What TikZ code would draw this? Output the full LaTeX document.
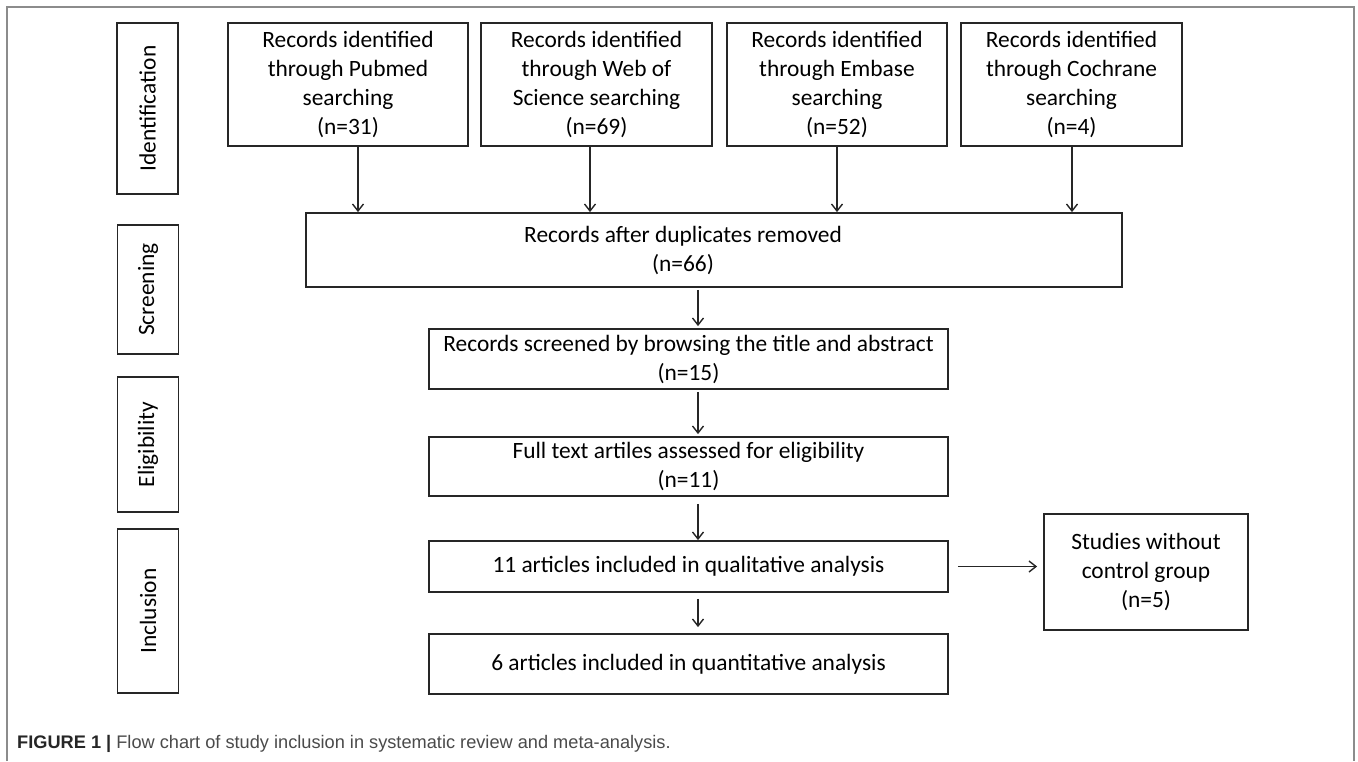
\documentclass[tikz,border=0pt]{standalone}
\usepackage{fontspec}
\setmainfont{Carlito}
\newfontfamily\capfont{Liberation Sans}
\usetikzlibrary{arrows.meta}
\definecolor{framegray}{HTML}{8C8C8C}
\definecolor{linegray}{HTML}{262626}
\definecolor{capgray}{HTML}{4A4A4A}

\begin{document}
\begin{tikzpicture}[x=1pt, y=-1pt, font=\fontsize{23.4}{29}\selectfont]
    \tikzstyle{rect} = [shape=rectangle, draw=linegray, line width=1.8pt, align=center, inner sep=0pt]
    \tikzstyle{side} = [rect, rotate=90, minimum height=61pt]
    \tikzstyle{arr}  = [line width=1.4pt, draw=linegray, -{Straight Barb[length=7pt,width=11pt]}]

    \useasboundingbox (0,0) rectangle (1358,761);
    \draw[framegray, line width=1.2pt] (7,761) -- (7,7) -- (1354,7) -- (1354,761);

    % stages
    \node[side, minimum width=171pt] (ident)  at (147.5,108.5) {Identification};
    \node[side, minimum width=129pt] (screen) at (148,289.5)   {Screening};
    \node[side, minimum width=135pt] (elig)   at (148,444.5)   {Eligibility};
    \node[side, minimum width=164pt] (incl)   at (148,611)     {Inclusion};

    % sources
    \node[rect, minimum width=240pt, minimum height=123pt] (pubmed)   at (348,84.5)
        {Records identified\\through Pubmed\\searching\\(n=31)};
    \node[rect, minimum width=231pt, minimum height=123pt] (wos)      at (596.5,84.5)
        {Records identified\\through Web of\\Science searching\\(n=69)};
    \node[rect, minimum width=220pt, minimum height=123pt] (embase)   at (837,84.5)
        {Records identified\\through Embase\\searching\\(n=52)};
    \node[rect, minimum width=221pt, minimum height=123pt] (cochrane) at (1071.5,84.5)
        {Records identified\\through Cochrane\\searching\\(n=4)};

    \node[rect, minimum width=816pt, minimum height=74pt,
        label={[xshift=-31pt, align=center]center:Records after duplicates removed\\(n=66)}]
        (dedup) at (714,250) {};

    \node[rect, minimum width=519pt, minimum height=60pt] (screened) at (688.5,359)
        {Records screened by browsing the title and abstract\\(n=15)};
    \node[rect, minimum width=519pt, minimum height=59pt] (fulltext) at (688.5,466.5)
        {Full text artiles assessed for eligibility\\(n=11)};
    \node[rect, minimum width=519pt, minimum height=51pt] (quali)    at (688.5,566.5)
        {11 articles included in qualitative analysis};
    \node[rect, minimum width=519pt, minimum height=60pt] (quanti)   at (688.5,664)
        {6 articles included in quantitative analysis};
    \node[rect, minimum width=204pt, minimum height=116pt] (nocontrol) at (1146,572)
        {Studies without\\control group\\(n=5)};

    \draw[arr] ([xshift=10pt]pubmed.south)  -- ([xshift=10pt]pubmed.south |- dedup.north);
    \draw[arr] ([xshift=-6.5pt]wos.south)   -- ([xshift=-6.5pt]wos.south |- dedup.north);
    \draw[arr] (embase.south)               -- (embase.south |- dedup.north);
    \draw[arr] ([xshift=0.5pt]cochrane.south) -- ([xshift=0.5pt]cochrane.south |- dedup.north);

    \draw[arr, shorten <=2pt, shorten >=2pt] ([xshift=9.5pt]screened.north |- dedup.south) -- ([xshift=9.5pt]screened.north);
    \draw[arr, shorten <=2pt, shorten >=2pt] ([xshift=9.5pt]screened.south) -- ([xshift=9.5pt]fulltext.north);
    \draw[arr, shorten <=7pt] ([xshift=9.5pt]fulltext.south) -- ([xshift=9.5pt]quali.north);
    \draw[arr, shorten <=6pt, shorten >=6pt] ([xshift=9.5pt]quali.south) -- ([xshift=9.5pt]quanti.north);
    \draw[arr, shorten <=9pt, shorten >=6pt] (quali.east) -- (quali.east -| nocontrol.west);

    \node[anchor=base west, inner sep=0pt, text=capgray, font=\capfont\fontsize{18.2}{20}\selectfont] (caption) at (17,748)
        {{\bfseries\color{black!85}FIGURE 1 |} Flow chart of study inclusion in systematic review and meta-analysis.};
\end{tikzpicture}
\end{document}
